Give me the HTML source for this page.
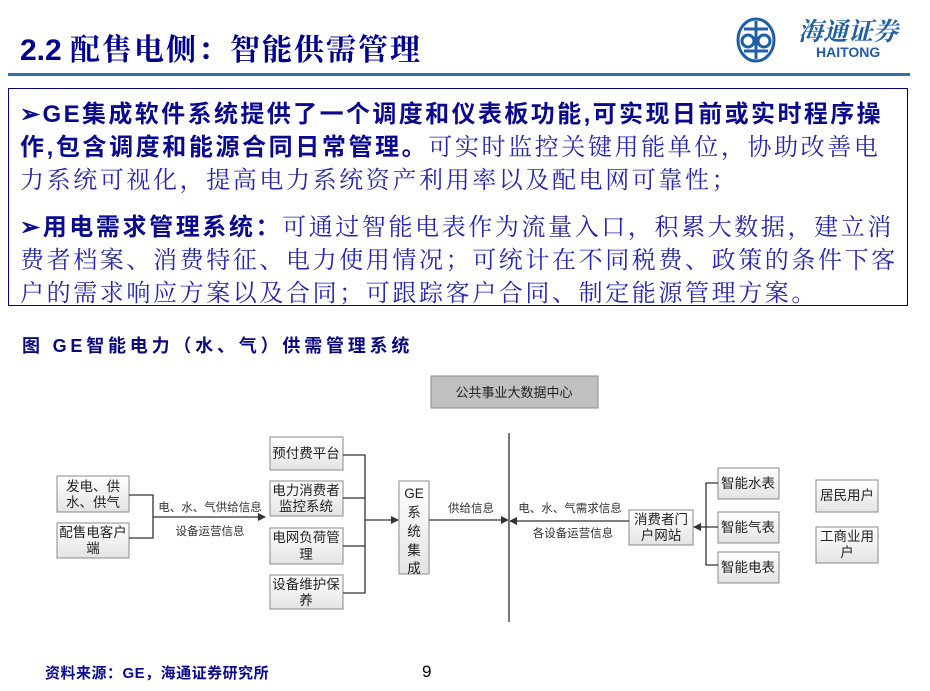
<!DOCTYPE html>
<html><head><meta charset="utf-8"><style>
body{margin:0;background:#fff;width:930px;height:691px;overflow:hidden;position:relative;font-family:"Liberation Sans","Noto Sans CJK SC",sans-serif}
.t{position:absolute;white-space:nowrap}
#box{position:absolute;left:8px;top:88px;width:900px;height:218px;border:1px solid #000080;box-sizing:border-box}
.p{position:absolute;left:11px;font-size:24px;color:#2626b0;white-space:nowrap;font-family:"Liberation Serif","Noto Serif CJK SC",serif;letter-spacing:2.6px}
.p b{color:#0a0a90;font-family:"Liberation Sans","Noto Sans CJK SC",sans-serif}
</style></head><body>
<div class="t" style="left:20px;top:25px;font-size:30px;color:#000090;font-weight:bold">2.2 <span style="font-family:'Noto Serif CJK SC',serif;letter-spacing:2px">配售电侧：智能供需管理</span></div>
<div style="position:absolute;left:8px;top:73px;width:902px;height:3px;background:#2f6fae"></div>
<svg style="position:absolute;left:736px;top:17px" width="40" height="46"><ellipse cx="20" cy="23" rx="18" ry="21" fill="none" stroke="#1f5fa8" stroke-width="3"/><circle cx="12" cy="24" r="6" fill="none" stroke="#1f5fa8" stroke-width="3"/><circle cx="28" cy="24" r="6" fill="none" stroke="#1f5fa8" stroke-width="3"/><path d="M20 4 V42 M8 12 L32 12 M8 34 L32 34" stroke="#1f5fa8" stroke-width="3"/></svg>
<div class="t" style="left:798px;top:12px;font-size:25px;color:#1f5fa8;font-family:'Noto Serif CJK SC',serif;font-style:italic;font-weight:bold">海通证券</div>
<div class="t" style="left:816px;top:44px;font-size:14px;color:#1f5fa8;font-weight:bold">HAITONG</div>
<div id="box">
<div class="p" style="top:5px;letter-spacing:2.4px"><b>➢GE集成软件系统提供了一个调度和仪表板功能,可实现日前或实时程序操</b></div>
<div class="p" style="top:38px"><b>作,包含调度和能源合同日常管理。</b>可实时监控关键用能单位，协助改善电</div>
<div class="p" style="top:71px">力系统可视化，提高电力系统资产利用率以及配电网可靠性；</div>
<div class="p" style="top:118px"><b>➢用电需求管理系统：</b>可通过智能电表作为流量入口，积累大数据，建立消</div>
<div class="p" style="top:151px">费者档案、消费特征、电力使用情况；可统计在不同税费、政策的条件下客</div>
<div class="p" style="top:184px">户的需求响应方案以及合同；可跟踪客户合同、制定能源管理方案。</div>
</div>
<div class="t" style="left:22px;top:332px;font-size:18px;font-weight:bold;color:#0a0a80;letter-spacing:3.8px">图 GE智能电力（水、气）供需管理系统</div>
<svg style="position:absolute;left:0;top:0" width="930" height="691" font-family="'Liberation Sans','Noto Sans CJK SC',sans-serif">
<defs>
<linearGradient id="g" x1="0" y1="0" x2="0" y2="1"><stop offset="0" stop-color="#fff"/><stop offset="1" stop-color="#e4e4e4"/></linearGradient>
<marker id="a" markerWidth="8" markerHeight="8" refX="7" refY="4" orient="auto" markerUnits="userSpaceOnUse"><path d="M0,0 L8,4 L0,8z" fill="#333"/></marker>
</defs>
<g stroke="#8a8a8a" stroke-width="1" fill="url(#g)">
<rect x="57" y="476" width="72" height="36"/><rect x="57" y="523" width="72" height="35"/>
<rect x="270" y="437" width="73" height="33"/><rect x="270" y="481" width="73" height="35"/>
<rect x="270" y="528" width="73" height="36"/><rect x="270" y="575" width="73" height="34"/>
<rect x="399" y="481" width="30" height="93"/>
<rect x="629" y="510" width="64" height="35"/>
<rect x="718" y="468" width="61" height="31"/><rect x="718" y="512" width="61" height="31"/><rect x="718" y="552" width="61" height="31"/>
<rect x="816" y="480" width="62" height="32"/><rect x="816" y="527" width="62" height="36"/>
<rect x="431" y="376" width="167" height="32" fill="#c0c0c0"/>
</g>
<g stroke="#333" stroke-width="1.3" fill="none">
<path d="M129 495 H153 V538 H129 M153 517 H265" marker-end="url(#a)"/>
<path d="M343 455 H365 V593 H343 M343 498 H365 M343 546 H365"/>
<path d="M365 520 H398" marker-end="url(#a)"/>
<path d="M429 520 H508" marker-end="url(#a)"/>
<path d="M629 521 H510" marker-end="url(#a)"/>
<path d="M718 483 H706 V565 H718 M718 527 H706"/>
<path d="M706 527 H694" marker-end="url(#a)"/>
</g>
<line x1="509" y1="433" x2="509" y2="622" stroke="#777" stroke-width="2"/>
<g font-size="13.5" fill="#222" text-anchor="middle">
<text x="93" y="491">发电、供</text><text x="93" y="507">水、供气</text>
<text x="93" y="537">配售电客户</text><text x="93" y="553">端</text>
<text x="306" y="458">预付费平台</text>
<text x="306" y="495">电力消费者</text><text x="306" y="511">监控系统</text>
<text x="306" y="542">电网负荷管</text><text x="306" y="559">理</text>
<text x="306" y="589">设备维护保</text><text x="306" y="605">养</text>
<text x="414" y="498">GE</text><text x="414" y="517">系</text><text x="414" y="536">统</text><text x="414" y="555">集</text><text x="414" y="573">成</text>
<text x="661" y="524">消费者门</text><text x="661" y="540">户网站</text>
<text x="748" y="488">智能水表</text><text x="748" y="532">智能气表</text><text x="748" y="572">智能电表</text>
<text x="847" y="500">居民用户</text>
<text x="847" y="541">工商业用</text><text x="847" y="557">户</text>
<text x="514" y="397" font-size="13">公共事业大数据中心</text>
</g>
<g font-size="11.5" fill="#333" text-anchor="middle">
<text x="210" y="511">电、水、气供给信息</text><text x="210" y="535">设备运营信息</text>
<text x="471" y="512">供给信息</text>
<text x="570" y="512">电、水、气需求信息</text><text x="573" y="537">各设备运营信息</text>
</g>
</svg>
<div class="t" style="left:45px;top:662px;font-size:15px;font-weight:bold;color:#0a0a90;letter-spacing:0.5px">资料来源：GE，海通证券研究所</div>
<div class="t" style="left:422px;top:662px;font-size:17px;color:#000">9</div>
</body></html>
